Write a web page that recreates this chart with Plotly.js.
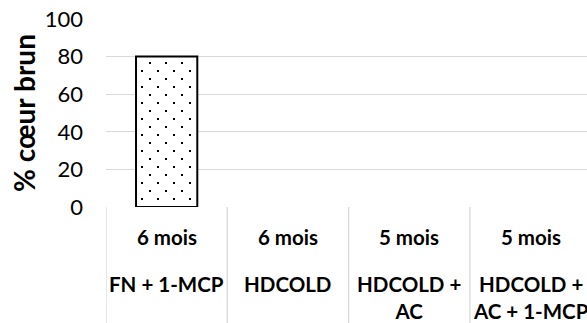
<!DOCTYPE html>
<html><head><meta charset="utf-8">
<script src="https://cdn.plot.ly/plotly-3.0.1.min.js"></script>
<style>html,body{margin:0;padding:0;background:#fff}#c{width:587px;height:323px}</style>
</head><body><div id="c"></div>
<script>
var durations = ["6 mois", "6 mois", "5 mois", "5 mois"];
var treatments = ["FN + 1-MCP", "HDCOLD", "HDCOLD +<br>AC", "HDCOLD +<br>AC + 1-MCP"];
var values = [80, null, null, null];
var yTicks = [0, 20, 40, 60, 80, 100];
var yTitle = "% cœur brun";

var idx = values.map(function(_, i){ return i; });
var FONT = "Lato, 'Open Sans', sans-serif";

var annotations = [];
var shapes = [];
idx.forEach(function(i){
  annotations.push({x: i, xref: 'x', y: -0.157, yref: 'paper', text: '<b>' + durations[i] + '</b>',
    showarrow: false, xanchor: 'center', yanchor: 'middle', font: {family: FONT, size: 20.5, color: '#000'}});
  annotations.push({x: i, xref: 'x', y: -0.335, yref: 'paper', text: '<b>' + treatments[i] + '</b>',
    showarrow: false, xanchor: 'center', yanchor: 'top', font: {family: FONT, size: 20.5, color: '#000'}});
  shapes.push({type: 'line', xref: 'x', yref: 'paper', x0: i - 0.5, x1: i - 0.5, y0: 0, y1: -0.7,
    line: {color: '#d9d9d9', width: 1.3}});
});

var trace = {
  type: 'bar', x: idx, y: values, width: 0.505,
  marker: {color: '#fff', line: {color: '#000', width: 2},
    pattern: {shape: '.', fgcolor: '#000', bgcolor: '#fff', size: 16, solidity: 0.02}},
  hoverinfo: 'skip'
};

var layout = {
  width: 587, height: 323,
  margin: {l: 106, r: 0, t: 18.5, b: 116.3},
  paper_bgcolor: '#fff', plot_bgcolor: '#fff',
  showlegend: false,
  xaxis: {range: [-0.5, 3.465], showticklabels: false, showgrid: false, zeroline: false, ticks: '', showline: false, fixedrange: true},
  yaxis: {range: [0, 100], tickvals: yTicks, ticktext: yTicks.map(String), showgrid: true, gridcolor: '#d9d9d9', gridwidth: 1,
    zeroline: false, showline: false, ticks: '', ticklabelstandoff: 22,
    tickfont: {family: FONT, size: 22, color: '#000'},
    title: {text: '<b>' + yTitle + '</b>', font: {family: FONT, size: 28, color: '#000'}, standoff: 0}},
  annotations: annotations,
  shapes: shapes
};
Plotly.newPlot('c', [trace], layout, {displayModeBar: false, staticPlot: true}).then(function(){
  // staggered dot fill like the reference (dots every 16px, rows offset by 8px)
  var NS = 'http://www.w3.org/2000/svg';
  document.querySelectorAll('#c pattern').forEach(function(p){
    while (p.firstChild) p.removeChild(p.firstChild);
    var bg = document.createElementNS(NS, 'rect');
    bg.setAttribute('width', 16); bg.setAttribute('height', 16); bg.setAttribute('fill', '#fff');
    p.appendChild(bg);
    [[3, 3], [11, 11]].forEach(function(d){
      var r = document.createElementNS(NS, 'rect');
      r.setAttribute('x', d[0]); r.setAttribute('y', d[1]);
      r.setAttribute('width', 2); r.setAttribute('height', 2); r.setAttribute('fill', '#000');
      p.appendChild(r);
    });
  });
});
</script></body></html>
